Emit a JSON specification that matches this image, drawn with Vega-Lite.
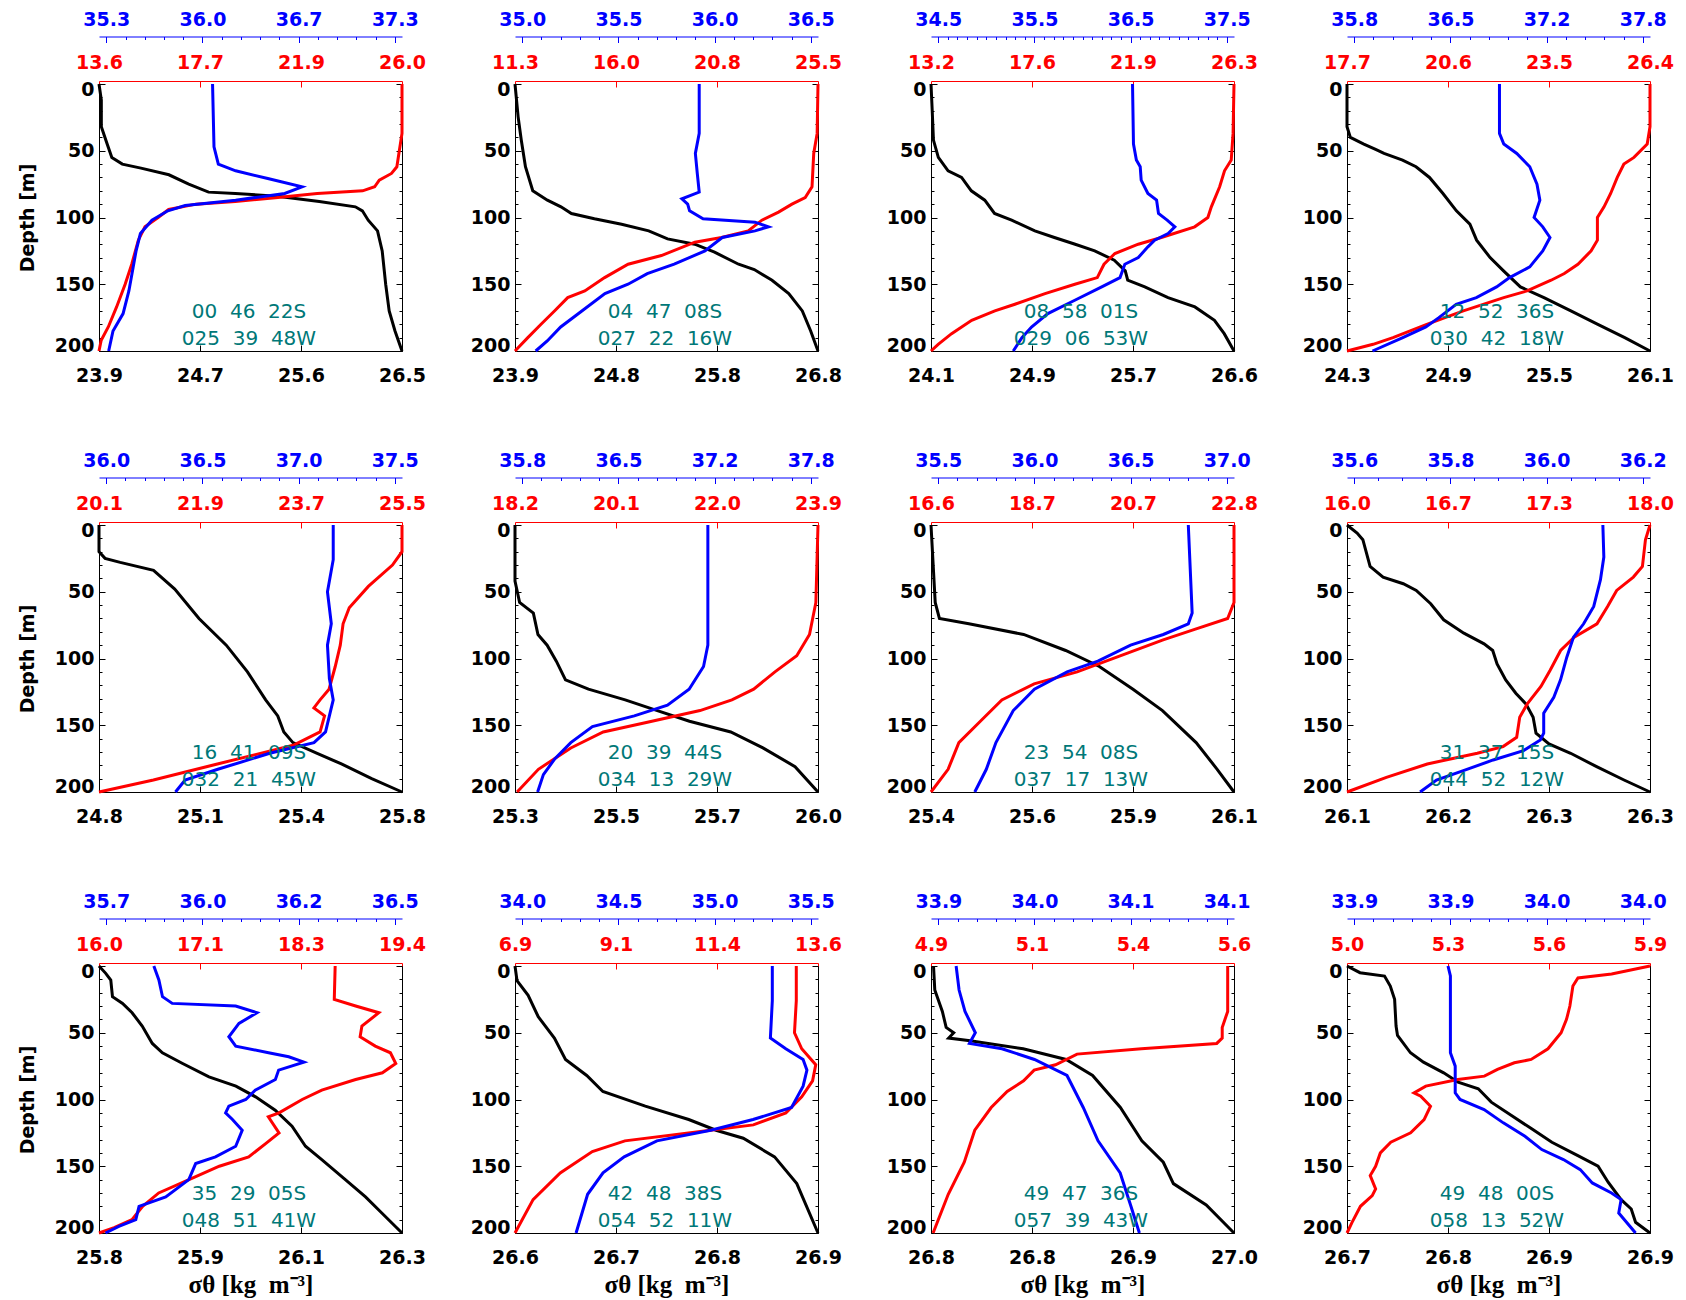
{
  "$schema": "https://vega.github.io/schema/vega-lite/v6.json",
  "background": "white",
  "padding": {"left": 18, "top": 7, "right": 5, "bottom": 5},
  "columns": 4,
  "bounds": "flush",
  "spacing": {"row": 174, "column": 113},
  "config": {
    "view": {"stroke": null},
    "axis": {"grid": false, "labelFont": "DejaVu Sans", "labelFontSize": 19, "labelFontWeight": "bold", "labelOverlap": false, "domainWidth": 1, "tickWidth": 1, "titleFont": "DejaVu Sans", "titleFontSize": 19, "titleFontWeight": "bold", "titleColor": "black", "labelColor": "black", "domainColor": "black", "tickColor": "black"},
    "line": {"strokeWidth": 3}
  },
  "datasets": {
    "p1s": [{"d":0,"v":23.86},{"d":12,"v":23.88},{"d":32,"v":23.88},{"d":45,"v":23.93},{"d":55,"v":23.97},{"d":60,"v":24.06},{"d":63,"v":24.22},{"d":68,"v":24.46},{"d":75,"v":24.63},{"d":81,"v":24.80},{"d":82,"v":25.03},{"d":84,"v":25.39},{"d":88,"v":25.75},{"d":92,"v":26.06},{"d":95,"v":26.12},{"d":102,"v":26.17},{"d":110,"v":26.25},{"d":125,"v":26.29},{"d":150,"v":26.32},{"d":170,"v":26.35},{"d":185,"v":26.40},{"d":200,"v":26.46}],
    "p1t": [{"d":0,"v":26.0},{"d":37,"v":26.0},{"d":50,"v":25.89},{"d":62,"v":25.79},{"d":67,"v":25.57},{"d":72,"v":25.07},{"d":77,"v":24.88},{"d":80,"v":24.39},{"d":82,"v":22.53},{"d":85,"v":20.92},{"d":88,"v":19.18},{"d":90,"v":17.57},{"d":94,"v":16.45},{"d":100,"v":16.02},{"d":107,"v":15.48},{"d":117,"v":15.21},{"d":135,"v":14.94},{"d":150,"v":14.67},{"d":167,"v":14.32},{"d":182,"v":13.98},{"d":192,"v":13.69},{"d":200,"v":13.6}],
    "p1S": [{"d":0,"v":36.07},{"d":47,"v":36.08},{"d":60,"v":36.11},{"d":65,"v":36.23},{"d":71,"v":36.46},{"d":77,"v":36.69},{"d":82,"v":36.57},{"d":87,"v":36.23},{"d":91,"v":35.88},{"d":95,"v":35.76},{"d":102,"v":35.65},{"d":112,"v":35.57},{"d":125,"v":35.54},{"d":137,"v":35.52},{"d":155,"v":35.49},{"d":172,"v":35.45},{"d":185,"v":35.38},{"d":200,"v":35.35}],
    "p2s": [{"d":0,"v":23.86},{"d":24.6,"v":23.89},{"d":42,"v":23.92},{"d":62,"v":23.96},{"d":80,"v":24.03},{"d":87,"v":24.17},{"d":92,"v":24.30},{"d":97,"v":24.40},{"d":101,"v":24.62},{"d":105,"v":24.88},{"d":110,"v":25.14},{"d":116,"v":25.32},{"d":120,"v":25.58},{"d":126,"v":25.77},{"d":135,"v":26.00},{"d":139,"v":26.15},{"d":147,"v":26.32},{"d":157,"v":26.48},{"d":170,"v":26.61},{"d":185,"v":26.69},{"d":200,"v":26.76}],
    "p2t": [{"d":0,"v":25.5},{"d":37,"v":25.46},{"d":52,"v":25.30},{"d":77,"v":25.22},{"d":85,"v":24.90},{"d":90,"v":24.28},{"d":96,"v":23.65},{"d":102,"v":22.87},{"d":110,"v":22.23},{"d":115,"v":20.98},{"d":118.5,"v":19.73},{"d":128.5,"v":18.16},{"d":135,"v":16.60},{"d":145,"v":15.50},{"d":155,"v":14.57},{"d":160,"v":13.77},{"d":170,"v":13.15},{"d":180,"v":12.52},{"d":190,"v":11.90},{"d":200,"v":11.3}],
    "p2S": [{"d":0,"v":35.92},{"d":37,"v":35.92},{"d":52,"v":35.90},{"d":67,"v":35.91},{"d":81,"v":35.92},{"d":86,"v":35.83},{"d":90,"v":35.86},{"d":95,"v":35.87},{"d":101,"v":35.94},{"d":103.5,"v":36.21},{"d":107,"v":36.28},{"d":110,"v":36.21},{"d":115,"v":36.04},{"d":125,"v":35.95},{"d":135,"v":35.79},{"d":142,"v":35.65},{"d":150,"v":35.55},{"d":157,"v":35.43},{"d":170,"v":35.31},{"d":182,"v":35.20},{"d":192.5,"v":35.13},{"d":200,"v":35.07}],
    "p3s": [{"d":0,"v":24.08},{"d":20,"v":24.09},{"d":42,"v":24.10},{"d":55,"v":24.14},{"d":65,"v":24.22},{"d":70,"v":24.33},{"d":80,"v":24.41},{"d":87,"v":24.52},{"d":97,"v":24.60},{"d":102,"v":24.74},{"d":110,"v":24.93},{"d":115,"v":25.09},{"d":120,"v":25.26},{"d":125,"v":25.42},{"d":132,"v":25.58},{"d":140,"v":25.67},{"d":147,"v":25.69},{"d":152,"v":25.83},{"d":160,"v":26.02},{"d":167,"v":26.24},{"d":177,"v":26.40},{"d":187,"v":26.48},{"d":200,"v":26.56}],
    "p3t": [{"d":0,"v":26.3},{"d":37,"v":26.26},{"d":57,"v":26.18},{"d":65,"v":25.89},{"d":77,"v":25.68},{"d":92,"v":25.32},{"d":100,"v":25.17},{"d":107,"v":24.60},{"d":115,"v":23.16},{"d":120,"v":22.16},{"d":127,"v":21.15},{"d":135,"v":20.68},{"d":145,"v":20.39},{"d":150,"v":19.42},{"d":157,"v":18.13},{"d":165,"v":16.83},{"d":170,"v":15.96},{"d":177,"v":14.96},{"d":187,"v":14.09},{"d":195,"v":13.51},{"d":200,"v":13.2}],
    "p3S": [{"d":0,"v":36.52},{"d":45,"v":36.53},{"d":57,"v":36.56},{"d":62,"v":36.60},{"d":72,"v":36.61},{"d":82,"v":36.68},{"d":87,"v":36.77},{"d":97,"v":36.79},{"d":102,"v":36.88},{"d":107,"v":36.96},{"d":112,"v":36.89},{"d":117,"v":36.75},{"d":122,"v":36.68},{"d":130,"v":36.58},{"d":135,"v":36.44},{"d":145,"v":36.39},{"d":152,"v":36.20},{"d":162,"v":35.92},{"d":172,"v":35.64},{"d":182,"v":35.47},{"d":190,"v":35.37},{"d":200,"v":35.28}],
    "p4s": [{"d":0,"v":24.30},{"d":32,"v":24.30},{"d":40,"v":24.32},{"d":45,"v":24.40},{"d":49,"v":24.47},{"d":52,"v":24.52},{"d":57,"v":24.63},{"d":62,"v":24.71},{"d":70,"v":24.79},{"d":82,"v":24.87},{"d":95,"v":24.95},{"d":105,"v":25.03},{"d":117,"v":25.07},{"d":130,"v":25.15},{"d":140,"v":25.23},{"d":152,"v":25.33},{"d":160,"v":25.47},{"d":170,"v":25.63},{"d":180,"v":25.79},{"d":190,"v":25.95},{"d":200,"v":26.10}],
    "p4t": [{"d":0,"v":26.40},{"d":32,"v":26.40},{"d":45,"v":26.32},{"d":55,"v":25.94},{"d":60,"v":25.65},{"d":70,"v":25.46},{"d":82,"v":25.27},{"d":92,"v":25.08},{"d":100,"v":24.89},{"d":117,"v":24.89},{"d":125,"v":24.71},{"d":135,"v":24.33},{"d":142,"v":23.94},{"d":147,"v":23.56},{"d":155,"v":22.87},{"d":160,"v":22.20},{"d":170,"v":21.04},{"d":180,"v":19.99},{"d":190,"v":19.02},{"d":195,"v":18.45},{"d":200,"v":17.70}],
    "p4S": [{"d":0,"v":36.84},{"d":37,"v":36.84},{"d":45,"v":36.87},{"d":52,"v":36.96},{"d":62,"v":37.05},{"d":75,"v":37.10},{"d":87,"v":37.12},{"d":100,"v":37.08},{"d":107,"v":37.14},{"d":115,"v":37.19},{"d":125,"v":37.14},{"d":137,"v":37.05},{"d":145,"v":36.91},{"d":152,"v":36.82},{"d":160,"v":36.68},{"d":165,"v":36.54},{"d":175,"v":36.42},{"d":182,"v":36.33},{"d":190,"v":36.17},{"d":200,"v":35.96}],
    "p5s": [{"d":0,"v":24.76},{"d":20,"v":24.76},{"d":25,"v":24.78},{"d":28,"v":24.83},{"d":34,"v":24.94},{"d":48,"v":25.01},{"d":70,"v":25.09},{"d":90,"v":25.18},{"d":110,"v":25.25},{"d":131,"v":25.31},{"d":143,"v":25.35},{"d":155,"v":25.37},{"d":163,"v":25.40},{"d":171,"v":25.48},{"d":179,"v":25.56},{"d":190,"v":25.66},{"d":200,"v":25.76}],
    "p5t": [{"d":0,"v":25.5},{"d":20,"v":25.5},{"d":30,"v":25.33},{"d":46,"v":24.90},{"d":62,"v":24.56},{"d":74,"v":24.45},{"d":90,"v":24.40},{"d":106,"v":24.31},{"d":123,"v":24.20},{"d":131,"v":24.04},{"d":137,"v":23.93},{"d":143,"v":24.12},{"d":155,"v":24.04},{"d":165,"v":23.56},{"d":179,"v":22.21},{"d":191,"v":21.07},{"d":200,"v":20.1}],
    "p5S": [{"d":0,"v":37.18},{"d":26,"v":37.18},{"d":50,"v":37.15},{"d":74,"v":37.17},{"d":90,"v":37.15},{"d":115,"v":37.16},{"d":131,"v":37.18},{"d":143,"v":37.16},{"d":155,"v":37.14},{"d":163,"v":37.08},{"d":171,"v":36.85},{"d":183,"v":36.58},{"d":191,"v":36.41},{"d":200,"v":36.36}],
    "p6s": [{"d":0,"v":25.30},{"d":42,"v":25.30},{"d":58,"v":25.31},{"d":66,"v":25.34},{"d":82,"v":25.35},{"d":90,"v":25.37},{"d":102,"v":25.39},{"d":116,"v":25.41},{"d":123,"v":25.46},{"d":131,"v":25.54},{"d":139,"v":25.61},{"d":147,"v":25.68},{"d":155,"v":25.77},{"d":167,"v":25.84},{"d":181,"v":25.91},{"d":200,"v":25.96}],
    "p6t": [{"d":0,"v":23.9},{"d":58,"v":23.86},{"d":82,"v":23.74},{"d":98,"v":23.50},{"d":110,"v":23.09},{"d":123,"v":22.69},{"d":131,"v":22.28},{"d":139,"v":21.68},{"d":148,"v":20.67},{"d":155,"v":19.86},{"d":167,"v":19.25},{"d":183,"v":18.64},{"d":200,"v":18.24}],
    "p6S": [{"d":0,"v":37.12},{"d":58,"v":37.12},{"d":90,"v":37.12},{"d":106,"v":37.09},{"d":123,"v":36.99},{"d":135,"v":36.84},{"d":143,"v":36.61},{"d":151,"v":36.32},{"d":163,"v":36.17},{"d":175,"v":36.06},{"d":187,"v":35.98},{"d":200,"v":35.94}],
    "p7s": [{"d":0,"v":25.40},{"d":58,"v":25.41},{"d":70,"v":25.42},{"d":74,"v":25.49},{"d":82,"v":25.62},{"d":94,"v":25.72},{"d":106,"v":25.80},{"d":123,"v":25.88},{"d":139,"v":25.95},{"d":163,"v":26.03},{"d":183,"v":26.08},{"d":200,"v":26.12}],
    "p7t": [{"d":0,"v":22.8},{"d":58,"v":22.8},{"d":70,"v":22.67},{"d":78,"v":22.01},{"d":86,"v":21.35},{"d":98,"v":20.47},{"d":110,"v":19.59},{"d":119,"v":18.71},{"d":131,"v":18.05},{"d":147,"v":17.61},{"d":163,"v":17.17},{"d":183,"v":16.95},{"d":200,"v":16.6}],
    "p7S": [{"d":0,"v":36.80},{"d":66,"v":36.82},{"d":74,"v":36.80},{"d":82,"v":36.67},{"d":90,"v":36.50},{"d":102,"v":36.33},{"d":110,"v":36.17},{"d":123,"v":36.00},{"d":139,"v":35.89},{"d":163,"v":35.80},{"d":183,"v":35.75},{"d":200,"v":35.69}],
    "p8s": [{"d":0,"v":26.120},{"d":6,"v":26.127},{"d":11,"v":26.131},{"d":19,"v":26.133},{"d":31,"v":26.136},{"d":39,"v":26.145},{"d":44,"v":26.159},{"d":49,"v":26.168},{"d":59,"v":26.178},{"d":71,"v":26.187},{"d":81,"v":26.201},{"d":89,"v":26.215},{"d":94,"v":26.221},{"d":104,"v":26.224},{"d":116,"v":26.230},{"d":126,"v":26.237},{"d":134,"v":26.244},{"d":144,"v":26.249},{"d":156,"v":26.251},{"d":164,"v":26.260},{"d":171,"v":26.275},{"d":181,"v":26.293},{"d":191,"v":26.312},{"d":200,"v":26.330}],
    "p8t": [{"d":0,"v":18.0},{"d":11,"v":17.97},{"d":31,"v":17.95},{"d":39,"v":17.89},{"d":49,"v":17.78},{"d":61,"v":17.72},{"d":74,"v":17.65},{"d":84,"v":17.50},{"d":94,"v":17.41},{"d":109,"v":17.34},{"d":121,"v":17.28},{"d":134,"v":17.19},{"d":144,"v":17.14},{"d":159,"v":17.12},{"d":166,"v":17.03},{"d":171,"v":16.86},{"d":179,"v":16.53},{"d":189,"v":16.26},{"d":200,"v":16.0}],
    "p8S": [{"d":0,"v":36.117},{"d":24,"v":36.119},{"d":41,"v":36.112},{"d":61,"v":36.098},{"d":74,"v":36.077},{"d":84,"v":36.056},{"d":99,"v":36.042},{"d":116,"v":36.029},{"d":129,"v":36.015},{"d":141,"v":35.994},{"d":156,"v":35.994},{"d":161,"v":35.987},{"d":169,"v":35.952},{"d":176,"v":35.889},{"d":184,"v":35.827},{"d":191,"v":35.771},{"d":200,"v":35.737}],
    "p9s": [{"d":0,"v":25.760},{"d":5.5,"v":25.772},{"d":10.5,"v":25.781},{"d":23,"v":25.784},{"d":28,"v":25.802},{"d":35,"v":25.819},{"d":45,"v":25.837},{"d":58,"v":25.855},{"d":65,"v":25.873},{"d":73,"v":25.909},{"d":83,"v":25.956},{"d":90,"v":26.004},{"d":98,"v":26.039},{"d":108,"v":26.074},{"d":120,"v":26.104},{"d":135,"v":26.128},{"d":145,"v":26.157},{"d":160,"v":26.199},{"d":173,"v":26.235},{"d":185,"v":26.264},{"d":200,"v":26.300}],
    "p9t": [{"d":0,"v":18.65},{"d":25,"v":18.64},{"d":30,"v":18.88},{"d":35,"v":19.14},{"d":45,"v":18.95},{"d":53,"v":18.93},{"d":60,"v":19.10},{"d":65,"v":19.27},{"d":73,"v":19.33},{"d":80,"v":19.18},{"d":85,"v":18.88},{"d":93,"v":18.50},{"d":100,"v":18.28},{"d":110,"v":18.02},{"d":113,"v":17.90},{"d":125,"v":18.02},{"d":133,"v":17.87},{"d":143,"v":17.68},{"d":150,"v":17.35},{"d":160,"v":17.01},{"d":170,"v":16.67},{"d":180,"v":16.49},{"d":190,"v":16.37},{"d":196,"v":16.17},{"d":200,"v":16.0}],
    "p9S": [{"d":0,"v":35.832},{"d":10.5,"v":35.846},{"d":23,"v":35.856},{"d":28,"v":35.883},{"d":30,"v":36.059},{"d":35,"v":36.118},{"d":43,"v":36.068},{"d":53,"v":36.040},{"d":60,"v":36.059},{"d":65,"v":36.150},{"d":68,"v":36.206},{"d":72,"v":36.248},{"d":78,"v":36.178},{"d":85,"v":36.169},{"d":93,"v":36.113},{"d":100,"v":36.087},{"d":105,"v":36.040},{"d":110,"v":36.031},{"d":115,"v":36.050},{"d":123,"v":36.077},{"d":135,"v":36.059},{"d":143,"v":36.003},{"d":148,"v":35.948},{"d":160,"v":35.929},{"d":173,"v":35.865},{"d":180,"v":35.791},{"d":190,"v":35.782},{"d":195,"v":35.735},{"d":200,"v":35.698}],
    "p10s": [{"d":0,"v":26.600},{"d":11,"v":26.602},{"d":22,"v":26.613},{"d":38,"v":26.623},{"d":54,"v":26.639},{"d":70,"v":26.650},{"d":82,"v":26.671},{"d":94,"v":26.687},{"d":105,"v":26.729},{"d":115,"v":26.772},{"d":123,"v":26.799},{"d":129,"v":26.826},{"d":143,"v":26.857},{"d":163,"v":26.879},{"d":200,"v":26.900}],
    "p10t": [{"d":0,"v":13.12},{"d":26,"v":13.12},{"d":50,"v":13.08},{"d":62,"v":13.24},{"d":74,"v":13.55},{"d":86,"v":13.48},{"d":98,"v":13.24},{"d":110,"v":12.89},{"d":119,"v":12.17},{"d":123,"v":11.22},{"d":131,"v":9.33},{"d":139,"v":8.61},{"d":155,"v":7.90},{"d":175,"v":7.30},{"d":200,"v":6.9}],
    "p10S": [{"d":0,"v":35.30},{"d":26,"v":35.30},{"d":54,"v":35.29},{"d":62,"v":35.37},{"d":70,"v":35.46},{"d":78,"v":35.48},{"d":90,"v":35.46},{"d":106,"v":35.40},{"d":115,"v":35.20},{"d":123,"v":34.98},{"d":131,"v":34.70},{"d":143,"v":34.53},{"d":155,"v":34.42},{"d":171,"v":34.34},{"d":200,"v":34.28}],
    "p11s": [{"d":0,"v":26.762},{"d":18,"v":26.763},{"d":34,"v":26.769},{"d":46,"v":26.772},{"d":50,"v":26.778},{"d":54,"v":26.774},{"d":56,"v":26.791},{"d":62,"v":26.833},{"d":70,"v":26.867},{"d":82,"v":26.888},{"d":106,"v":26.910},{"d":131,"v":26.927},{"d":147,"v":26.944},{"d":163,"v":26.952},{"d":179,"v":26.978},{"d":200,"v":27.000}],
    "p11t": [{"d":0,"v":5.605},{"d":34,"v":5.605},{"d":46,"v":5.592},{"d":54,"v":5.592},{"d":58,"v":5.579},{"d":62,"v":5.400},{"d":66,"v":5.247},{"d":74,"v":5.196},{"d":78,"v":5.145},{"d":86,"v":5.120},{"d":94,"v":5.081},{"d":106,"v":5.043},{"d":123,"v":5.004},{"d":147,"v":4.979},{"d":171,"v":4.941},{"d":200,"v":4.905}],
    "p11S": [{"d":0,"v":33.942},{"d":18,"v":33.944},{"d":34,"v":33.948},{"d":50,"v":33.955},{"d":58,"v":33.951},{"d":62,"v":33.973},{"d":70,"v":33.995},{"d":82,"v":34.017},{"d":106,"v":34.028},{"d":131,"v":34.038},{"d":155,"v":34.053},{"d":179,"v":34.060},{"d":200,"v":34.066}],
    "p12s": [{"d":0,"v":26.720},{"d":5,"v":26.729},{"d":7.5,"v":26.746},{"d":15,"v":26.750},{"d":25,"v":26.753},{"d":45,"v":26.754},{"d":52,"v":26.755},{"d":65,"v":26.764},{"d":72,"v":26.773},{"d":80,"v":26.787},{"d":87,"v":26.797},{"d":92,"v":26.811},{"d":102,"v":26.820},{"d":112,"v":26.834},{"d":122,"v":26.848},{"d":132,"v":26.862},{"d":142,"v":26.880},{"d":150,"v":26.894},{"d":162,"v":26.901},{"d":175,"v":26.910},{"d":182,"v":26.917},{"d":192,"v":26.920},{"d":200,"v":26.930}],
    "p12t": [{"d":0,"v":5.900},{"d":6,"v":5.786},{"d":9,"v":5.686},{"d":15,"v":5.671},{"d":30,"v":5.662},{"d":40,"v":5.652},{"d":50,"v":5.636},{"d":62,"v":5.597},{"d":70,"v":5.547},{"d":72.5,"v":5.497},{"d":77.5,"v":5.447},{"d":82.5,"v":5.408},{"d":85,"v":5.329},{"d":90,"v":5.234},{"d":95,"v":5.199},{"d":97.5,"v":5.219},{"d":105,"v":5.248},{"d":115,"v":5.229},{"d":125,"v":5.189},{"d":132,"v":5.130},{"d":140,"v":5.099},{"d":150,"v":5.085},{"d":157,"v":5.069},{"d":167,"v":5.085},{"d":172,"v":5.075},{"d":180,"v":5.040},{"d":192,"v":5.015},{"d":200,"v":5.000}],
    "p12S": [{"d":0,"v":33.939},{"d":7.5,"v":33.940},{"d":32.5,"v":33.940},{"d":65,"v":33.940},{"d":75,"v":33.942},{"d":85,"v":33.942},{"d":95,"v":33.942},{"d":100,"v":33.944},{"d":107.5,"v":33.954},{"d":117.5,"v":33.962},{"d":127.5,"v":33.971},{"d":137.5,"v":33.978},{"d":145,"v":33.987},{"d":152.5,"v":33.994},{"d":162.5,"v":33.999},{"d":170,"v":34.007},{"d":175,"v":34.011},{"d":185,"v":34.010},{"d":200,"v":34.017}]
  },
  "concat": [
    {
      "width": 303, "height": 267,
      "resolve": {"scale": {"x": "independent"}, "axis": {"x": "independent", "y": "independent"}},
      "layer": [
        {"data": {"name": "p1s"}, "mark": {"type": "line", "color": "#000000"},
         "encoding": {
           "x": {"field": "v", "type": "quantitative", "scale": {"domain": [23.86, 26.46], "nice": false, "zero": false},
                 "axis": {"orient": "bottom", "values": [23.86, 24.7267, 25.5933, 26.46], "format": ".1f", "title": null, "labelFlush": false, "tickSize": -6, "labelPadding": 21}},
           "y": {"field": "d", "type": "quantitative", "scale": {"domain": [0, 200], "reverse": true, "nice": false, "zero": false},
                 "axis": {"orient": "left", "values": [0,10,20,30,40,50,60,70,80,90,100,110,120,130,140,150,160,170,180,190,200], "labelExpr": "datum.value % 50 === 0 ? datum.label : ''", "tickSize": {"condition": {"test": "datum.value % 50 === 0", "value": -6}, "value": -3}, "labelPadding": 11, "labelFlush": true, "labelFlushOffset": 4, "title": "Depth [m]", "titlePadding": 17}},
           "order": {"field": "d", "type": "quantitative"}}},
        {"data": {"name": "p1t"}, "mark": {"type": "line", "color": "#ff0000"},
         "encoding": {
           "x": {"field": "v", "type": "quantitative", "scale": {"domain": [13.6, 26.0], "nice": false, "zero": false},
                 "axis": {"orient": "top", "offset": 3, "values": [13.6, 17.7333, 21.8667, 26.0], "format": ".1f", "title": null, "labelFlush": false, "tickSize": -6, "labelPadding": 15, "labelColor": "#ff0000", "domainColor": "#ff0000", "tickColor": "#ff0000"}},
           "y": {"field": "d", "type": "quantitative", "scale": {"domain": [0, 200], "reverse": true, "nice": false, "zero": false},
                 "axis": {"orient": "right", "values": [0,10,20,30,40,50,60,70,80,90,100,110,120,130,140,150,160,170,180,190,200], "labels": false, "tickSize": {"condition": {"test": "datum.value % 50 === 0", "value": -6}, "value": -3}, "title": null}},
           "order": {"field": "d", "type": "quantitative"}}},
        {"data": {"name": "p1S"}, "mark": {"type": "line", "color": "#0000ff"},
         "encoding": {
           "x": {"field": "v", "type": "quantitative", "scale": {"domain": [35.283, 37.383], "nice": false, "zero": false},
                 "axis": {"orient": "top", "offset": 47.5, "values": [35.3333,35.4667,35.6,35.7333,35.8667,36.0,36.1333,36.2667,36.4,36.5333,36.6667,36.8,36.9333,37.0667,37.2,37.3333], "format": ".1f",
                          "labelExpr": "abs((datum.value-35.3333)/0.66667-round((datum.value-35.3333)/0.66667))<0.05 ? datum.label : ''",
                          "tickSize": {"condition": {"test": "abs((datum.value-35.3333)/0.66667-round((datum.value-35.3333)/0.66667))<0.05", "value": -6}, "value": -3},
                          "title": null, "labelFlush": false, "labelPadding": 13, "labelColor": "#0000ff", "domainColor": "#0000ff", "tickColor": "#0000ff"}},
           "y": {"field": "d", "type": "quantitative", "scale": {"domain": [0, 200], "reverse": true, "nice": false, "zero": false}, "axis": null},
           "order": {"field": "d", "type": "quantitative"}}},
        {"data": {"values": [{"lab": ["00\u00a0\u00a046\u00a0\u00a022S", "025\u00a0\u00a039\u00a0\u00a048W"]}]},
         "mark": {"type": "text", "font": "DejaVu Sans", "fontSize": 20, "color": "#007878", "align": "center", "baseline": "middle", "lineHeight": 27},
         "encoding": {
           "x": {"datum": 0.495, "type": "quantitative", "scale": {"domain": [0, 1], "nice": false, "zero": false}, "axis": null},
           "y": {"datum": 171, "type": "quantitative", "scale": {"domain": [0, 200], "reverse": true, "nice": false, "zero": false}, "axis": null},
           "text": {"field": "lab"}}}
      ]
    },
    {
      "width": 303, "height": 267,
      "resolve": {"scale": {"x": "independent"}, "axis": {"x": "independent", "y": "independent"}},
      "layer": [
        {"data": {"name": "p2s"}, "mark": {"type": "line", "color": "#000000"},
         "encoding": {
           "x": {"field": "v", "type": "quantitative", "scale": {"domain": [23.86, 26.76], "nice": false, "zero": false},
                 "axis": {"orient": "bottom", "values": [23.86, 24.8267, 25.7933, 26.76], "format": ".1f", "title": null, "labelFlush": false, "tickSize": -6, "labelPadding": 21}},
           "y": {"field": "d", "type": "quantitative", "scale": {"domain": [0, 200], "reverse": true, "nice": false, "zero": false},
                 "axis": {"orient": "left", "values": [0,10,20,30,40,50,60,70,80,90,100,110,120,130,140,150,160,170,180,190,200], "labelExpr": "datum.value % 50 === 0 ? datum.label : ''", "tickSize": {"condition": {"test": "datum.value % 50 === 0", "value": -6}, "value": -3}, "labelPadding": 11, "labelFlush": true, "labelFlushOffset": 4, "title": null}},
           "order": {"field": "d", "type": "quantitative"}}},
        {"data": {"name": "p2t"}, "mark": {"type": "line", "color": "#ff0000"},
         "encoding": {
           "x": {"field": "v", "type": "quantitative", "scale": {"domain": [11.3, 25.5], "nice": false, "zero": false},
                 "axis": {"orient": "top", "offset": 3, "values": [11.3, 16.0333, 20.7667, 25.5], "format": ".1f", "title": null, "labelFlush": false, "tickSize": -6, "labelPadding": 15, "labelColor": "#ff0000", "domainColor": "#ff0000", "tickColor": "#ff0000"}},
           "y": {"field": "d", "type": "quantitative", "scale": {"domain": [0, 200], "reverse": true, "nice": false, "zero": false},
                 "axis": {"orient": "right", "values": [0,10,20,30,40,50,60,70,80,90,100,110,120,130,140,150,160,170,180,190,200], "labels": false, "tickSize": {"condition": {"test": "datum.value % 50 === 0", "value": -6}, "value": -3}, "title": null}},
           "order": {"field": "d", "type": "quantitative"}}},
        {"data": {"name": "p2S"}, "mark": {"type": "line", "color": "#0000ff"},
         "encoding": {
           "x": {"field": "v", "type": "quantitative", "scale": {"domain": [34.9625, 36.5375], "nice": false, "zero": false},
                 "axis": {"orient": "top", "offset": 47.5, "values": [35.0,35.1,35.2,35.3,35.4,35.5,35.6,35.7,35.8,35.9,36.0,36.1,36.2,36.3,36.4,36.5], "format": ".1f",
                          "labelExpr": "abs((datum.value-35.0)/0.5-round((datum.value-35.0)/0.5))<0.05 ? datum.label : ''",
                          "tickSize": {"condition": {"test": "abs((datum.value-35.0)/0.5-round((datum.value-35.0)/0.5))<0.05", "value": -6}, "value": -3},
                          "title": null, "labelFlush": false, "labelPadding": 13, "labelColor": "#0000ff", "domainColor": "#0000ff", "tickColor": "#0000ff"}},
           "y": {"field": "d", "type": "quantitative", "scale": {"domain": [0, 200], "reverse": true, "nice": false, "zero": false}, "axis": null},
           "order": {"field": "d", "type": "quantitative"}}},
        {"data": {"values": [{"lab": ["04\u00a0\u00a047\u00a0\u00a008S", "027\u00a0\u00a022\u00a0\u00a016W"]}]},
         "mark": {"type": "text", "font": "DejaVu Sans", "fontSize": 20, "color": "#007878", "align": "center", "baseline": "middle", "lineHeight": 27},
         "encoding": {
           "x": {"datum": 0.495, "type": "quantitative", "scale": {"domain": [0, 1], "nice": false, "zero": false}, "axis": null},
           "y": {"datum": 171, "type": "quantitative", "scale": {"domain": [0, 200], "reverse": true, "nice": false, "zero": false}, "axis": null},
           "text": {"field": "lab"}}}
      ]
    },
    {
      "width": 303, "height": 267,
      "resolve": {"scale": {"x": "independent"}, "axis": {"x": "independent", "y": "independent"}},
      "layer": [
        {"data": {"name": "p3s"}, "mark": {"type": "line", "color": "#000000"},
         "encoding": {
           "x": {"field": "v", "type": "quantitative", "scale": {"domain": [24.08, 26.56], "nice": false, "zero": false},
                 "axis": {"orient": "bottom", "values": [24.08, 24.9067, 25.7333, 26.56], "format": ".1f", "title": null, "labelFlush": false, "tickSize": -6, "labelPadding": 21}},
           "y": {"field": "d", "type": "quantitative", "scale": {"domain": [0, 200], "reverse": true, "nice": false, "zero": false},
                 "axis": {"orient": "left", "values": [0,10,20,30,40,50,60,70,80,90,100,110,120,130,140,150,160,170,180,190,200], "labelExpr": "datum.value % 50 === 0 ? datum.label : ''", "tickSize": {"condition": {"test": "datum.value % 50 === 0", "value": -6}, "value": -3}, "labelPadding": 11, "labelFlush": true, "labelFlushOffset": 4, "title": null}},
           "order": {"field": "d", "type": "quantitative"}}},
        {"data": {"name": "p3t"}, "mark": {"type": "line", "color": "#ff0000"},
         "encoding": {
           "x": {"field": "v", "type": "quantitative", "scale": {"domain": [13.2, 26.3], "nice": false, "zero": false},
                 "axis": {"orient": "top", "offset": 3, "values": [13.2, 17.5667, 21.9333, 26.3], "format": ".1f", "title": null, "labelFlush": false, "tickSize": -6, "labelPadding": 15, "labelColor": "#ff0000", "domainColor": "#ff0000", "tickColor": "#ff0000"}},
           "y": {"field": "d", "type": "quantitative", "scale": {"domain": [0, 200], "reverse": true, "nice": false, "zero": false},
                 "axis": {"orient": "right", "values": [0,10,20,30,40,50,60,70,80,90,100,110,120,130,140,150,160,170,180,190,200], "labels": false, "tickSize": {"condition": {"test": "datum.value % 50 === 0", "value": -6}, "value": -3}, "title": null}},
           "order": {"field": "d", "type": "quantitative"}}},
        {"data": {"name": "p3S"}, "mark": {"type": "line", "color": "#0000ff"},
         "encoding": {
           "x": {"field": "v", "type": "quantitative", "scale": {"domain": [34.425, 37.575], "nice": false, "zero": false},
                 "axis": {"orient": "top", "offset": 47.5, "values": [34.5,34.6,34.7,34.8,34.9,35.0,35.1,35.2,35.3,35.4,35.5,35.6,35.7,35.8,35.9,36.0,36.1,36.2,36.3,36.4,36.5,36.6,36.7,36.8,36.9,37.0,37.1,37.2,37.3,37.4,37.5], "format": ".1f",
                          "labelExpr": "abs((datum.value-34.5)/1.0-round((datum.value-34.5)/1.0))<0.02 ? datum.label : ''",
                          "tickSize": {"condition": {"test": "abs((datum.value-34.5)/1.0-round((datum.value-34.5)/1.0))<0.02", "value": -6}, "value": -3},
                          "title": null, "labelFlush": false, "labelPadding": 13, "labelColor": "#0000ff", "domainColor": "#0000ff", "tickColor": "#0000ff"}},
           "y": {"field": "d", "type": "quantitative", "scale": {"domain": [0, 200], "reverse": true, "nice": false, "zero": false}, "axis": null},
           "order": {"field": "d", "type": "quantitative"}}},
        {"data": {"values": [{"lab": ["08\u00a0\u00a058\u00a0\u00a001S", "029\u00a0\u00a006\u00a0\u00a053W"]}]},
         "mark": {"type": "text", "font": "DejaVu Sans", "fontSize": 20, "color": "#007878", "align": "center", "baseline": "middle", "lineHeight": 27},
         "encoding": {
           "x": {"datum": 0.495, "type": "quantitative", "scale": {"domain": [0, 1], "nice": false, "zero": false}, "axis": null},
           "y": {"datum": 171, "type": "quantitative", "scale": {"domain": [0, 200], "reverse": true, "nice": false, "zero": false}, "axis": null},
           "text": {"field": "lab"}}}
      ]
    },
    {
      "width": 303, "height": 267,
      "resolve": {"scale": {"x": "independent"}, "axis": {"x": "independent", "y": "independent"}},
      "layer": [
        {"data": {"name": "p4s"}, "mark": {"type": "line", "color": "#000000"},
         "encoding": {
           "x": {"field": "v", "type": "quantitative", "scale": {"domain": [24.3, 26.1], "nice": false, "zero": false},
                 "axis": {"orient": "bottom", "values": [24.3, 24.9, 25.5, 26.1], "format": ".1f", "title": null, "labelFlush": false, "tickSize": -6, "labelPadding": 21}},
           "y": {"field": "d", "type": "quantitative", "scale": {"domain": [0, 200], "reverse": true, "nice": false, "zero": false},
                 "axis": {"orient": "left", "values": [0,10,20,30,40,50,60,70,80,90,100,110,120,130,140,150,160,170,180,190,200], "labelExpr": "datum.value % 50 === 0 ? datum.label : ''", "tickSize": {"condition": {"test": "datum.value % 50 === 0", "value": -6}, "value": -3}, "labelPadding": 11, "labelFlush": true, "labelFlushOffset": 4, "title": null}},
           "order": {"field": "d", "type": "quantitative"}}},
        {"data": {"name": "p4t"}, "mark": {"type": "line", "color": "#ff0000"},
         "encoding": {
           "x": {"field": "v", "type": "quantitative", "scale": {"domain": [17.7, 26.4], "nice": false, "zero": false},
                 "axis": {"orient": "top", "offset": 3, "values": [17.7, 20.6, 23.5, 26.4], "format": ".1f", "title": null, "labelFlush": false, "tickSize": -6, "labelPadding": 15, "labelColor": "#ff0000", "domainColor": "#ff0000", "tickColor": "#ff0000"}},
           "y": {"field": "d", "type": "quantitative", "scale": {"domain": [0, 200], "reverse": true, "nice": false, "zero": false},
                 "axis": {"orient": "right", "values": [0,10,20,30,40,50,60,70,80,90,100,110,120,130,140,150,160,170,180,190,200], "labels": false, "tickSize": {"condition": {"test": "datum.value % 50 === 0", "value": -6}, "value": -3}, "title": null}},
           "order": {"field": "d", "type": "quantitative"}}},
        {"data": {"name": "p4S"}, "mark": {"type": "line", "color": "#0000ff"},
         "encoding": {
           "x": {"field": "v", "type": "quantitative", "scale": {"domain": [35.7833, 37.8833], "nice": false, "zero": false},
                 "axis": {"orient": "top", "offset": 47.5, "values": [35.8333,35.9667,36.1,36.2333,36.3667,36.5,36.6333,36.7667,36.9,37.0333,37.1667,37.3,37.4333,37.5667,37.7,37.8333], "format": ".1f",
                          "labelExpr": "abs((datum.value-35.8333)/0.66667-round((datum.value-35.8333)/0.66667))<0.05 ? datum.label : ''",
                          "tickSize": {"condition": {"test": "abs((datum.value-35.8333)/0.66667-round((datum.value-35.8333)/0.66667))<0.05", "value": -6}, "value": -3},
                          "title": null, "labelFlush": false, "labelPadding": 13, "labelColor": "#0000ff", "domainColor": "#0000ff", "tickColor": "#0000ff"}},
           "y": {"field": "d", "type": "quantitative", "scale": {"domain": [0, 200], "reverse": true, "nice": false, "zero": false}, "axis": null},
           "order": {"field": "d", "type": "quantitative"}}},
        {"data": {"values": [{"lab": ["12\u00a0\u00a052\u00a0\u00a036S", "030\u00a0\u00a042\u00a0\u00a018W"]}]},
         "mark": {"type": "text", "font": "DejaVu Sans", "fontSize": 20, "color": "#007878", "align": "center", "baseline": "middle", "lineHeight": 27},
         "encoding": {
           "x": {"datum": 0.495, "type": "quantitative", "scale": {"domain": [0, 1], "nice": false, "zero": false}, "axis": null},
           "y": {"datum": 171, "type": "quantitative", "scale": {"domain": [0, 200], "reverse": true, "nice": false, "zero": false}, "axis": null},
           "text": {"field": "lab"}}}
      ]
    },
    {
      "width": 303, "height": 267,
      "resolve": {"scale": {"x": "independent"}, "axis": {"x": "independent", "y": "independent"}},
      "layer": [
        {"data": {"name": "p5s"}, "mark": {"type": "line", "color": "#000000"},
         "encoding": {
           "x": {"field": "v", "type": "quantitative", "scale": {"domain": [24.76, 25.76], "nice": false, "zero": false},
                 "axis": {"orient": "bottom", "values": [24.76, 25.0933, 25.4267, 25.76], "format": ".1f", "title": null, "labelFlush": false, "tickSize": -6, "labelPadding": 21}},
           "y": {"field": "d", "type": "quantitative", "scale": {"domain": [0, 200], "reverse": true, "nice": false, "zero": false},
                 "axis": {"orient": "left", "values": [0,10,20,30,40,50,60,70,80,90,100,110,120,130,140,150,160,170,180,190,200], "labelExpr": "datum.value % 50 === 0 ? datum.label : ''", "tickSize": {"condition": {"test": "datum.value % 50 === 0", "value": -6}, "value": -3}, "labelPadding": 11, "labelFlush": true, "labelFlushOffset": 4, "title": "Depth [m]", "titlePadding": 17}},
           "order": {"field": "d", "type": "quantitative"}}},
        {"data": {"name": "p5t"}, "mark": {"type": "line", "color": "#ff0000"},
         "encoding": {
           "x": {"field": "v", "type": "quantitative", "scale": {"domain": [20.1, 25.5], "nice": false, "zero": false},
                 "axis": {"orient": "top", "offset": 3, "values": [20.1, 21.9, 23.7, 25.5], "format": ".1f", "title": null, "labelFlush": false, "tickSize": -6, "labelPadding": 15, "labelColor": "#ff0000", "domainColor": "#ff0000", "tickColor": "#ff0000"}},
           "y": {"field": "d", "type": "quantitative", "scale": {"domain": [0, 200], "reverse": true, "nice": false, "zero": false},
                 "axis": {"orient": "right", "values": [0,10,20,30,40,50,60,70,80,90,100,110,120,130,140,150,160,170,180,190,200], "labels": false, "tickSize": {"condition": {"test": "datum.value % 50 === 0", "value": -6}, "value": -3}, "title": null}},
           "order": {"field": "d", "type": "quantitative"}}},
        {"data": {"name": "p5S"}, "mark": {"type": "line", "color": "#0000ff"},
         "encoding": {
           "x": {"field": "v", "type": "quantitative", "scale": {"domain": [35.9625, 37.5375], "nice": false, "zero": false},
                 "axis": {"orient": "top", "offset": 47.5, "values": [36.0,36.1,36.2,36.3,36.4,36.5,36.6,36.7,36.8,36.9,37.0,37.1,37.2,37.3,37.4,37.5], "format": ".1f",
                          "labelExpr": "abs((datum.value-36.0)/0.5-round((datum.value-36.0)/0.5))<0.05 ? datum.label : ''",
                          "tickSize": {"condition": {"test": "abs((datum.value-36.0)/0.5-round((datum.value-36.0)/0.5))<0.05", "value": -6}, "value": -3},
                          "title": null, "labelFlush": false, "labelPadding": 13, "labelColor": "#0000ff", "domainColor": "#0000ff", "tickColor": "#0000ff"}},
           "y": {"field": "d", "type": "quantitative", "scale": {"domain": [0, 200], "reverse": true, "nice": false, "zero": false}, "axis": null},
           "order": {"field": "d", "type": "quantitative"}}},
        {"data": {"values": [{"lab": ["16\u00a0\u00a041\u00a0\u00a009S", "032\u00a0\u00a021\u00a0\u00a045W"]}]},
         "mark": {"type": "text", "font": "DejaVu Sans", "fontSize": 20, "color": "#007878", "align": "center", "baseline": "middle", "lineHeight": 27},
         "encoding": {
           "x": {"datum": 0.495, "type": "quantitative", "scale": {"domain": [0, 1], "nice": false, "zero": false}, "axis": null},
           "y": {"datum": 171, "type": "quantitative", "scale": {"domain": [0, 200], "reverse": true, "nice": false, "zero": false}, "axis": null},
           "text": {"field": "lab"}}}
      ]
    },
    {
      "width": 303, "height": 267,
      "resolve": {"scale": {"x": "independent"}, "axis": {"x": "independent", "y": "independent"}},
      "layer": [
        {"data": {"name": "p6s"}, "mark": {"type": "line", "color": "#000000"},
         "encoding": {
           "x": {"field": "v", "type": "quantitative", "scale": {"domain": [25.30, 25.96], "nice": false, "zero": false},
                 "axis": {"orient": "bottom", "values": [25.30, 25.52, 25.74, 25.96], "format": ".1f", "title": null, "labelFlush": false, "tickSize": -6, "labelPadding": 21}},
           "y": {"field": "d", "type": "quantitative", "scale": {"domain": [0, 200], "reverse": true, "nice": false, "zero": false},
                 "axis": {"orient": "left", "values": [0,10,20,30,40,50,60,70,80,90,100,110,120,130,140,150,160,170,180,190,200], "labelExpr": "datum.value % 50 === 0 ? datum.label : ''", "tickSize": {"condition": {"test": "datum.value % 50 === 0", "value": -6}, "value": -3}, "labelPadding": 11, "labelFlush": true, "labelFlushOffset": 4, "title": null}},
           "order": {"field": "d", "type": "quantitative"}}},
        {"data": {"name": "p6t"}, "mark": {"type": "line", "color": "#ff0000"},
         "encoding": {
           "x": {"field": "v", "type": "quantitative", "scale": {"domain": [18.2, 23.9], "nice": false, "zero": false},
                 "axis": {"orient": "top", "offset": 3, "values": [18.2, 20.1, 22.0, 23.9], "format": ".1f", "title": null, "labelFlush": false, "tickSize": -6, "labelPadding": 15, "labelColor": "#ff0000", "domainColor": "#ff0000", "tickColor": "#ff0000"}},
           "y": {"field": "d", "type": "quantitative", "scale": {"domain": [0, 200], "reverse": true, "nice": false, "zero": false},
                 "axis": {"orient": "right", "values": [0,10,20,30,40,50,60,70,80,90,100,110,120,130,140,150,160,170,180,190,200], "labels": false, "tickSize": {"condition": {"test": "datum.value % 50 === 0", "value": -6}, "value": -3}, "title": null}},
           "order": {"field": "d", "type": "quantitative"}}},
        {"data": {"name": "p6S"}, "mark": {"type": "line", "color": "#0000ff"},
         "encoding": {
           "x": {"field": "v", "type": "quantitative", "scale": {"domain": [35.7833, 37.8833], "nice": false, "zero": false},
                 "axis": {"orient": "top", "offset": 47.5, "values": [35.8333,35.9667,36.1,36.2333,36.3667,36.5,36.6333,36.7667,36.9,37.0333,37.1667,37.3,37.4333,37.5667,37.7,37.8333], "format": ".1f",
                          "labelExpr": "abs((datum.value-35.8333)/0.66667-round((datum.value-35.8333)/0.66667))<0.05 ? datum.label : ''",
                          "tickSize": {"condition": {"test": "abs((datum.value-35.8333)/0.66667-round((datum.value-35.8333)/0.66667))<0.05", "value": -6}, "value": -3},
                          "title": null, "labelFlush": false, "labelPadding": 13, "labelColor": "#0000ff", "domainColor": "#0000ff", "tickColor": "#0000ff"}},
           "y": {"field": "d", "type": "quantitative", "scale": {"domain": [0, 200], "reverse": true, "nice": false, "zero": false}, "axis": null},
           "order": {"field": "d", "type": "quantitative"}}},
        {"data": {"values": [{"lab": ["20\u00a0\u00a039\u00a0\u00a044S", "034\u00a0\u00a013\u00a0\u00a029W"]}]},
         "mark": {"type": "text", "font": "DejaVu Sans", "fontSize": 20, "color": "#007878", "align": "center", "baseline": "middle", "lineHeight": 27},
         "encoding": {
           "x": {"datum": 0.495, "type": "quantitative", "scale": {"domain": [0, 1], "nice": false, "zero": false}, "axis": null},
           "y": {"datum": 171, "type": "quantitative", "scale": {"domain": [0, 200], "reverse": true, "nice": false, "zero": false}, "axis": null},
           "text": {"field": "lab"}}}
      ]
    },
    {
      "width": 303, "height": 267,
      "resolve": {"scale": {"x": "independent"}, "axis": {"x": "independent", "y": "independent"}},
      "layer": [
        {"data": {"name": "p7s"}, "mark": {"type": "line", "color": "#000000"},
         "encoding": {
           "x": {"field": "v", "type": "quantitative", "scale": {"domain": [25.40, 26.12], "nice": false, "zero": false},
                 "axis": {"orient": "bottom", "values": [25.40, 25.64, 25.88, 26.12], "format": ".1f", "title": null, "labelFlush": false, "tickSize": -6, "labelPadding": 21}},
           "y": {"field": "d", "type": "quantitative", "scale": {"domain": [0, 200], "reverse": true, "nice": false, "zero": false},
                 "axis": {"orient": "left", "values": [0,10,20,30,40,50,60,70,80,90,100,110,120,130,140,150,160,170,180,190,200], "labelExpr": "datum.value % 50 === 0 ? datum.label : ''", "tickSize": {"condition": {"test": "datum.value % 50 === 0", "value": -6}, "value": -3}, "labelPadding": 11, "labelFlush": true, "labelFlushOffset": 4, "title": null}},
           "order": {"field": "d", "type": "quantitative"}}},
        {"data": {"name": "p7t"}, "mark": {"type": "line", "color": "#ff0000"},
         "encoding": {
           "x": {"field": "v", "type": "quantitative", "scale": {"domain": [16.6, 22.8], "nice": false, "zero": false},
                 "axis": {"orient": "top", "offset": 3, "values": [16.6, 18.6667, 20.7333, 22.8], "format": ".1f", "title": null, "labelFlush": false, "tickSize": -6, "labelPadding": 15, "labelColor": "#ff0000", "domainColor": "#ff0000", "tickColor": "#ff0000"}},
           "y": {"field": "d", "type": "quantitative", "scale": {"domain": [0, 200], "reverse": true, "nice": false, "zero": false},
                 "axis": {"orient": "right", "values": [0,10,20,30,40,50,60,70,80,90,100,110,120,130,140,150,160,170,180,190,200], "labels": false, "tickSize": {"condition": {"test": "datum.value % 50 === 0", "value": -6}, "value": -3}, "title": null}},
           "order": {"field": "d", "type": "quantitative"}}},
        {"data": {"name": "p7S"}, "mark": {"type": "line", "color": "#0000ff"},
         "encoding": {
           "x": {"field": "v", "type": "quantitative", "scale": {"domain": [35.4625, 37.0375], "nice": false, "zero": false},
                 "axis": {"orient": "top", "offset": 47.5, "values": [35.5,35.6,35.7,35.8,35.9,36.0,36.1,36.2,36.3,36.4,36.5,36.6,36.7,36.8,36.9,37.0], "format": ".1f",
                          "labelExpr": "abs((datum.value-35.5)/0.5-round((datum.value-35.5)/0.5))<0.05 ? datum.label : ''",
                          "tickSize": {"condition": {"test": "abs((datum.value-35.5)/0.5-round((datum.value-35.5)/0.5))<0.05", "value": -6}, "value": -3},
                          "title": null, "labelFlush": false, "labelPadding": 13, "labelColor": "#0000ff", "domainColor": "#0000ff", "tickColor": "#0000ff"}},
           "y": {"field": "d", "type": "quantitative", "scale": {"domain": [0, 200], "reverse": true, "nice": false, "zero": false}, "axis": null},
           "order": {"field": "d", "type": "quantitative"}}},
        {"data": {"values": [{"lab": ["23\u00a0\u00a054\u00a0\u00a008S", "037\u00a0\u00a017\u00a0\u00a013W"]}]},
         "mark": {"type": "text", "font": "DejaVu Sans", "fontSize": 20, "color": "#007878", "align": "center", "baseline": "middle", "lineHeight": 27},
         "encoding": {
           "x": {"datum": 0.495, "type": "quantitative", "scale": {"domain": [0, 1], "nice": false, "zero": false}, "axis": null},
           "y": {"datum": 171, "type": "quantitative", "scale": {"domain": [0, 200], "reverse": true, "nice": false, "zero": false}, "axis": null},
           "text": {"field": "lab"}}}
      ]
    },
    {
      "width": 303, "height": 267,
      "resolve": {"scale": {"x": "independent"}, "axis": {"x": "independent", "y": "independent"}},
      "layer": [
        {"data": {"name": "p8s"}, "mark": {"type": "line", "color": "#000000"},
         "encoding": {
           "x": {"field": "v", "type": "quantitative", "scale": {"domain": [26.12, 26.33], "nice": false, "zero": false},
                 "axis": {"orient": "bottom", "values": [26.12, 26.19, 26.26, 26.33], "format": ".1f", "title": null, "labelFlush": false, "tickSize": -6, "labelPadding": 21}},
           "y": {"field": "d", "type": "quantitative", "scale": {"domain": [0, 200], "reverse": true, "nice": false, "zero": false},
                 "axis": {"orient": "left", "values": [0,10,20,30,40,50,60,70,80,90,100,110,120,130,140,150,160,170,180,190,200], "labelExpr": "datum.value % 50 === 0 ? datum.label : ''", "tickSize": {"condition": {"test": "datum.value % 50 === 0", "value": -6}, "value": -3}, "labelPadding": 11, "labelFlush": true, "labelFlushOffset": 4, "title": null}},
           "order": {"field": "d", "type": "quantitative"}}},
        {"data": {"name": "p8t"}, "mark": {"type": "line", "color": "#ff0000"},
         "encoding": {
           "x": {"field": "v", "type": "quantitative", "scale": {"domain": [16.0, 18.0], "nice": false, "zero": false},
                 "axis": {"orient": "top", "offset": 3, "values": [16.0, 16.6667, 17.3333, 18.0], "format": ".1f", "title": null, "labelFlush": false, "tickSize": -6, "labelPadding": 15, "labelColor": "#ff0000", "domainColor": "#ff0000", "tickColor": "#ff0000"}},
           "y": {"field": "d", "type": "quantitative", "scale": {"domain": [0, 200], "reverse": true, "nice": false, "zero": false},
                 "axis": {"orient": "right", "values": [0,10,20,30,40,50,60,70,80,90,100,110,120,130,140,150,160,170,180,190,200], "labels": false, "tickSize": {"condition": {"test": "datum.value % 50 === 0", "value": -6}, "value": -3}, "title": null}},
           "order": {"field": "d", "type": "quantitative"}}},
        {"data": {"name": "p8S"}, "mark": {"type": "line", "color": "#0000ff"},
         "encoding": {
           "x": {"field": "v", "type": "quantitative", "scale": {"domain": [35.585, 36.215], "nice": false, "zero": false},
                 "axis": {"orient": "top", "offset": 47.5, "values": [35.6,35.65,35.7,35.75,35.8,35.85,35.9,35.95,36.0,36.05,36.1,36.15,36.2], "format": ".1f",
                          "labelExpr": "abs((datum.value-35.6)/0.2-round((datum.value-35.6)/0.2))<0.05 ? datum.label : ''",
                          "tickSize": {"condition": {"test": "abs((datum.value-35.6)/0.2-round((datum.value-35.6)/0.2))<0.05", "value": -6}, "value": -3},
                          "title": null, "labelFlush": false, "labelPadding": 13, "labelColor": "#0000ff", "domainColor": "#0000ff", "tickColor": "#0000ff"}},
           "y": {"field": "d", "type": "quantitative", "scale": {"domain": [0, 200], "reverse": true, "nice": false, "zero": false}, "axis": null},
           "order": {"field": "d", "type": "quantitative"}}},
        {"data": {"values": [{"lab": ["31\u00a0\u00a037\u00a0\u00a015S", "044\u00a0\u00a052\u00a0\u00a012W"]}]},
         "mark": {"type": "text", "font": "DejaVu Sans", "fontSize": 20, "color": "#007878", "align": "center", "baseline": "middle", "lineHeight": 27},
         "encoding": {
           "x": {"datum": 0.495, "type": "quantitative", "scale": {"domain": [0, 1], "nice": false, "zero": false}, "axis": null},
           "y": {"datum": 171, "type": "quantitative", "scale": {"domain": [0, 200], "reverse": true, "nice": false, "zero": false}, "axis": null},
           "text": {"field": "lab"}}}
      ]
    },
    {
      "width": 303, "height": 267,
      "resolve": {"scale": {"x": "independent"}, "axis": {"x": "independent", "y": "independent"}},
      "layer": [
        {"data": {"name": "p9s"}, "mark": {"type": "line", "color": "#000000"},
         "encoding": {
           "x": {"field": "v", "type": "quantitative", "scale": {"domain": [25.76, 26.30], "nice": false, "zero": false},
                 "axis": {"orient": "bottom", "values": [25.76, 25.94, 26.12, 26.30], "format": ".1f", "title": "\u03c3\u03b8 [kg\u00a0\u00a0m\u207b\u00b3]", "titleFont": "Liberation Serif", "titleFontSize": 25, "titlePadding": 5, "labelFlush": false, "tickSize": -6, "labelPadding": 21}},
           "y": {"field": "d", "type": "quantitative", "scale": {"domain": [0, 200], "reverse": true, "nice": false, "zero": false},
                 "axis": {"orient": "left", "values": [0,10,20,30,40,50,60,70,80,90,100,110,120,130,140,150,160,170,180,190,200], "labelExpr": "datum.value % 50 === 0 ? datum.label : ''", "tickSize": {"condition": {"test": "datum.value % 50 === 0", "value": -6}, "value": -3}, "labelPadding": 11, "labelFlush": true, "labelFlushOffset": 4, "title": "Depth [m]", "titlePadding": 17}},
           "order": {"field": "d", "type": "quantitative"}}},
        {"data": {"name": "p9t"}, "mark": {"type": "line", "color": "#ff0000"},
         "encoding": {
           "x": {"field": "v", "type": "quantitative", "scale": {"domain": [16.0, 19.4], "nice": false, "zero": false},
                 "axis": {"orient": "top", "offset": 3, "values": [16.0, 17.1333, 18.2667, 19.4], "format": ".1f", "title": null, "labelFlush": false, "tickSize": -6, "labelPadding": 15, "labelColor": "#ff0000", "domainColor": "#ff0000", "tickColor": "#ff0000"}},
           "y": {"field": "d", "type": "quantitative", "scale": {"domain": [0, 200], "reverse": true, "nice": false, "zero": false},
                 "axis": {"orient": "right", "values": [0,10,20,30,40,50,60,70,80,90,100,110,120,130,140,150,160,170,180,190,200], "labels": false, "tickSize": {"condition": {"test": "datum.value % 50 === 0", "value": -6}, "value": -3}, "title": null}},
           "order": {"field": "d", "type": "quantitative"}}},
        {"data": {"name": "p9S"}, "mark": {"type": "line", "color": "#0000ff"},
         "encoding": {
           "x": {"field": "v", "type": "quantitative", "scale": {"domain": [35.68, 36.52], "nice": false, "zero": false},
                 "axis": {"orient": "top", "offset": 47.5, "values": [35.7,35.7533,35.8067,35.86,35.9133,35.9667,36.02,36.0733,36.1267,36.18,36.2333,36.2867,36.34,36.3933,36.4467,36.5], "format": ".1f",
                          "labelExpr": "abs((datum.value-35.7)/0.26667-round((datum.value-35.7)/0.26667))<0.05 ? datum.label : ''",
                          "tickSize": {"condition": {"test": "abs((datum.value-35.7)/0.26667-round((datum.value-35.7)/0.26667))<0.05", "value": -6}, "value": -3},
                          "title": null, "labelFlush": false, "labelPadding": 13, "labelColor": "#0000ff", "domainColor": "#0000ff", "tickColor": "#0000ff"}},
           "y": {"field": "d", "type": "quantitative", "scale": {"domain": [0, 200], "reverse": true, "nice": false, "zero": false}, "axis": null},
           "order": {"field": "d", "type": "quantitative"}}},
        {"data": {"values": [{"lab": ["35\u00a0\u00a029\u00a0\u00a005S", "048\u00a0\u00a051\u00a0\u00a041W"]}]},
         "mark": {"type": "text", "font": "DejaVu Sans", "fontSize": 20, "color": "#007878", "align": "center", "baseline": "middle", "lineHeight": 27},
         "encoding": {
           "x": {"datum": 0.495, "type": "quantitative", "scale": {"domain": [0, 1], "nice": false, "zero": false}, "axis": null},
           "y": {"datum": 171, "type": "quantitative", "scale": {"domain": [0, 200], "reverse": true, "nice": false, "zero": false}, "axis": null},
           "text": {"field": "lab"}}}
      ]
    },
    {
      "width": 303, "height": 267,
      "resolve": {"scale": {"x": "independent"}, "axis": {"x": "independent", "y": "independent"}},
      "layer": [
        {"data": {"name": "p10s"}, "mark": {"type": "line", "color": "#000000"},
         "encoding": {
           "x": {"field": "v", "type": "quantitative", "scale": {"domain": [26.6, 26.9], "nice": false, "zero": false},
                 "axis": {"orient": "bottom", "values": [26.6, 26.7, 26.8, 26.9], "format": ".1f", "title": "\u03c3\u03b8 [kg\u00a0\u00a0m\u207b\u00b3]", "titleFont": "Liberation Serif", "titleFontSize": 25, "titlePadding": 5, "labelFlush": false, "tickSize": -6, "labelPadding": 21}},
           "y": {"field": "d", "type": "quantitative", "scale": {"domain": [0, 200], "reverse": true, "nice": false, "zero": false},
                 "axis": {"orient": "left", "values": [0,10,20,30,40,50,60,70,80,90,100,110,120,130,140,150,160,170,180,190,200], "labelExpr": "datum.value % 50 === 0 ? datum.label : ''", "tickSize": {"condition": {"test": "datum.value % 50 === 0", "value": -6}, "value": -3}, "labelPadding": 11, "labelFlush": true, "labelFlushOffset": 4, "title": null}},
           "order": {"field": "d", "type": "quantitative"}}},
        {"data": {"name": "p10t"}, "mark": {"type": "line", "color": "#ff0000"},
         "encoding": {
           "x": {"field": "v", "type": "quantitative", "scale": {"domain": [6.9, 13.6], "nice": false, "zero": false},
                 "axis": {"orient": "top", "offset": 3, "values": [6.9, 9.1333, 11.3667, 13.6], "format": ".1f", "title": null, "labelFlush": false, "tickSize": -6, "labelPadding": 15, "labelColor": "#ff0000", "domainColor": "#ff0000", "tickColor": "#ff0000"}},
           "y": {"field": "d", "type": "quantitative", "scale": {"domain": [0, 200], "reverse": true, "nice": false, "zero": false},
                 "axis": {"orient": "right", "values": [0,10,20,30,40,50,60,70,80,90,100,110,120,130,140,150,160,170,180,190,200], "labels": false, "tickSize": {"condition": {"test": "datum.value % 50 === 0", "value": -6}, "value": -3}, "title": null}},
           "order": {"field": "d", "type": "quantitative"}}},
        {"data": {"name": "p10S"}, "mark": {"type": "line", "color": "#0000ff"},
         "encoding": {
           "x": {"field": "v", "type": "quantitative", "scale": {"domain": [33.9625, 35.5375], "nice": false, "zero": false},
                 "axis": {"orient": "top", "offset": 47.5, "values": [34.0,34.1,34.2,34.3,34.4,34.5,34.6,34.7,34.8,34.9,35.0,35.1,35.2,35.3,35.4,35.5], "format": ".1f",
                          "labelExpr": "abs((datum.value-34.0)/0.5-round((datum.value-34.0)/0.5))<0.05 ? datum.label : ''",
                          "tickSize": {"condition": {"test": "abs((datum.value-34.0)/0.5-round((datum.value-34.0)/0.5))<0.05", "value": -6}, "value": -3},
                          "title": null, "labelFlush": false, "labelPadding": 13, "labelColor": "#0000ff", "domainColor": "#0000ff", "tickColor": "#0000ff"}},
           "y": {"field": "d", "type": "quantitative", "scale": {"domain": [0, 200], "reverse": true, "nice": false, "zero": false}, "axis": null},
           "order": {"field": "d", "type": "quantitative"}}},
        {"data": {"values": [{"lab": ["42\u00a0\u00a048\u00a0\u00a038S", "054\u00a0\u00a052\u00a0\u00a011W"]}]},
         "mark": {"type": "text", "font": "DejaVu Sans", "fontSize": 20, "color": "#007878", "align": "center", "baseline": "middle", "lineHeight": 27},
         "encoding": {
           "x": {"datum": 0.495, "type": "quantitative", "scale": {"domain": [0, 1], "nice": false, "zero": false}, "axis": null},
           "y": {"datum": 171, "type": "quantitative", "scale": {"domain": [0, 200], "reverse": true, "nice": false, "zero": false}, "axis": null},
           "text": {"field": "lab"}}}
      ]
    },
    {
      "width": 303, "height": 267,
      "resolve": {"scale": {"x": "independent"}, "axis": {"x": "independent", "y": "independent"}},
      "layer": [
        {"data": {"name": "p11s"}, "mark": {"type": "line", "color": "#000000"},
         "encoding": {
           "x": {"field": "v", "type": "quantitative", "scale": {"domain": [26.76, 27.00], "nice": false, "zero": false},
                 "axis": {"orient": "bottom", "values": [26.76, 26.84, 26.92, 27.00], "format": ".1f", "title": "\u03c3\u03b8 [kg\u00a0\u00a0m\u207b\u00b3]", "titleFont": "Liberation Serif", "titleFontSize": 25, "titlePadding": 5, "labelFlush": false, "tickSize": -6, "labelPadding": 21}},
           "y": {"field": "d", "type": "quantitative", "scale": {"domain": [0, 200], "reverse": true, "nice": false, "zero": false},
                 "axis": {"orient": "left", "values": [0,10,20,30,40,50,60,70,80,90,100,110,120,130,140,150,160,170,180,190,200], "labelExpr": "datum.value % 50 === 0 ? datum.label : ''", "tickSize": {"condition": {"test": "datum.value % 50 === 0", "value": -6}, "value": -3}, "labelPadding": 11, "labelFlush": true, "labelFlushOffset": 4, "title": null}},
           "order": {"field": "d", "type": "quantitative"}}},
        {"data": {"name": "p11t"}, "mark": {"type": "line", "color": "#ff0000"},
         "encoding": {
           "x": {"field": "v", "type": "quantitative", "scale": {"domain": [4.9, 5.62], "nice": false, "zero": false},
                 "axis": {"orient": "top", "offset": 3, "values": [4.9, 5.14, 5.38, 5.62], "format": ".1f", "title": null, "labelFlush": false, "tickSize": -6, "labelPadding": 15, "labelColor": "#ff0000", "domainColor": "#ff0000", "tickColor": "#ff0000"}},
           "y": {"field": "d", "type": "quantitative", "scale": {"domain": [0, 200], "reverse": true, "nice": false, "zero": false},
                 "axis": {"orient": "right", "values": [0,10,20,30,40,50,60,70,80,90,100,110,120,130,140,150,160,170,180,190,200], "labels": false, "tickSize": {"condition": {"test": "datum.value % 50 === 0", "value": -6}, "value": -3}, "title": null}},
           "order": {"field": "d", "type": "quantitative"}}},
        {"data": {"name": "p11S"}, "mark": {"type": "line", "color": "#0000ff"},
         "encoding": {
           "x": {"field": "v", "type": "quantitative", "scale": {"domain": [33.925, 34.13], "nice": false, "zero": false},
                 "axis": {"orient": "top", "offset": 47.5, "values": [33.93,33.943,33.956,33.969,33.982,33.995,34.008,34.021,34.034,34.047,34.06,34.073,34.086,34.099,34.112,34.125], "format": ".1f",
                          "labelExpr": "abs((datum.value-33.93)/0.065-round((datum.value-33.93)/0.065))<0.05 ? datum.label : ''",
                          "tickSize": {"condition": {"test": "abs((datum.value-33.93)/0.065-round((datum.value-33.93)/0.065))<0.05", "value": -6}, "value": -3},
                          "title": null, "labelFlush": false, "labelPadding": 13, "labelColor": "#0000ff", "domainColor": "#0000ff", "tickColor": "#0000ff"}},
           "y": {"field": "d", "type": "quantitative", "scale": {"domain": [0, 200], "reverse": true, "nice": false, "zero": false}, "axis": null},
           "order": {"field": "d", "type": "quantitative"}}},
        {"data": {"values": [{"lab": ["49\u00a0\u00a047\u00a0\u00a036S", "057\u00a0\u00a039\u00a0\u00a043W"]}]},
         "mark": {"type": "text", "font": "DejaVu Sans", "fontSize": 20, "color": "#007878", "align": "center", "baseline": "middle", "lineHeight": 27},
         "encoding": {
           "x": {"datum": 0.495, "type": "quantitative", "scale": {"domain": [0, 1], "nice": false, "zero": false}, "axis": null},
           "y": {"datum": 171, "type": "quantitative", "scale": {"domain": [0, 200], "reverse": true, "nice": false, "zero": false}, "axis": null},
           "text": {"field": "lab"}}}
      ]
    },
    {
      "width": 303, "height": 267,
      "resolve": {"scale": {"x": "independent"}, "axis": {"x": "independent", "y": "independent"}},
      "layer": [
        {"data": {"name": "p12s"}, "mark": {"type": "line", "color": "#000000"},
         "encoding": {
           "x": {"field": "v", "type": "quantitative", "scale": {"domain": [26.72, 26.93], "nice": false, "zero": false},
                 "axis": {"orient": "bottom", "values": [26.72, 26.79, 26.86, 26.93], "format": ".1f", "title": "\u03c3\u03b8 [kg\u00a0\u00a0m\u207b\u00b3]", "titleFont": "Liberation Serif", "titleFontSize": 25, "titlePadding": 5, "labelFlush": false, "tickSize": -6, "labelPadding": 21}},
           "y": {"field": "d", "type": "quantitative", "scale": {"domain": [0, 200], "reverse": true, "nice": false, "zero": false},
                 "axis": {"orient": "left", "values": [0,10,20,30,40,50,60,70,80,90,100,110,120,130,140,150,160,170,180,190,200], "labelExpr": "datum.value % 50 === 0 ? datum.label : ''", "tickSize": {"condition": {"test": "datum.value % 50 === 0", "value": -6}, "value": -3}, "labelPadding": 11, "labelFlush": true, "labelFlushOffset": 4, "title": null}},
           "order": {"field": "d", "type": "quantitative"}}},
        {"data": {"name": "p12t"}, "mark": {"type": "line", "color": "#ff0000"},
         "encoding": {
           "x": {"field": "v", "type": "quantitative", "scale": {"domain": [5.0, 5.9], "nice": false, "zero": false},
                 "axis": {"orient": "top", "offset": 3, "values": [5.0, 5.3, 5.6, 5.9], "format": ".1f", "title": null, "labelFlush": false, "tickSize": -6, "labelPadding": 15, "labelColor": "#ff0000", "domainColor": "#ff0000", "tickColor": "#ff0000"}},
           "y": {"field": "d", "type": "quantitative", "scale": {"domain": [0, 200], "reverse": true, "nice": false, "zero": false},
                 "axis": {"orient": "right", "values": [0,10,20,30,40,50,60,70,80,90,100,110,120,130,140,150,160,170,180,190,200], "labels": false, "tickSize": {"condition": {"test": "datum.value % 50 === 0", "value": -6}, "value": -3}, "title": null}},
           "order": {"field": "d", "type": "quantitative"}}},
        {"data": {"name": "p12S"}, "mark": {"type": "line", "color": "#0000ff"},
         "encoding": {
           "x": {"field": "v", "type": "quantitative", "scale": {"domain": [33.897, 34.023], "nice": false, "zero": false},
                 "axis": {"orient": "top", "offset": 47.5, "values": [33.9,33.908,33.916,33.924,33.932,33.94,33.948,33.956,33.964,33.972,33.98,33.988,33.996,34.004,34.012,34.02], "format": ".1f",
                          "labelExpr": "abs((datum.value-33.9)/0.04-round((datum.value-33.9)/0.04))<0.05 ? datum.label : ''",
                          "tickSize": {"condition": {"test": "abs((datum.value-33.9)/0.04-round((datum.value-33.9)/0.04))<0.05", "value": -6}, "value": -3},
                          "title": null, "labelFlush": false, "labelPadding": 13, "labelColor": "#0000ff", "domainColor": "#0000ff", "tickColor": "#0000ff"}},
           "y": {"field": "d", "type": "quantitative", "scale": {"domain": [0, 200], "reverse": true, "nice": false, "zero": false}, "axis": null},
           "order": {"field": "d", "type": "quantitative"}}},
        {"data": {"values": [{"lab": ["49\u00a0\u00a048\u00a0\u00a000S", "058\u00a0\u00a013\u00a0\u00a052W"]}]},
         "mark": {"type": "text", "font": "DejaVu Sans", "fontSize": 20, "color": "#007878", "align": "center", "baseline": "middle", "lineHeight": 27},
         "encoding": {
           "x": {"datum": 0.495, "type": "quantitative", "scale": {"domain": [0, 1], "nice": false, "zero": false}, "axis": null},
           "y": {"datum": 171, "type": "quantitative", "scale": {"domain": [0, 200], "reverse": true, "nice": false, "zero": false}, "axis": null},
           "text": {"field": "lab"}}}
      ]
    }
  ]
}
